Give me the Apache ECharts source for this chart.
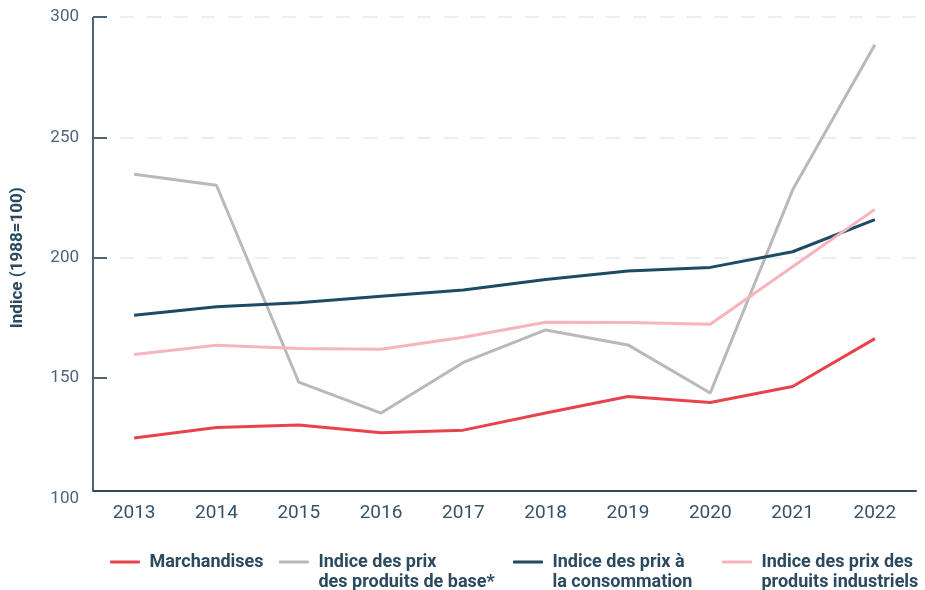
<!DOCTYPE html>
<html>
<head>
<meta charset="utf-8">
<script src="https://cdn.jsdelivr.net/npm/echarts@6/dist/echarts.min.js"></script>
<style>
  html, body { margin: 0; padding: 0; background: #fff; }
  #chart { width: 925px; height: 590px; }
</style>
</head>
<body>
<div id="chart"></div>
<script>
// données (indice 1988 = 100)
const years = ['2013', '2014', '2015', '2016', '2017', '2018', '2019', '2020', '2021', '2022']
const marchandises = [125.1, 129.5, 130.5, 127.3, 128.4, 135.5, 142.4, 139.9, 146.5, 166.4]
const produitsBase = [234.7, 230.1, 148.3, 135.5, 156.5, 170.0, 163.8, 143.8, 228.1, 288.5]
const consommation = [176.1, 179.6, 181.3, 184.0, 186.6, 191.0, 194.5, 196.0, 202.5, 215.8]
const industriels = [159.8, 163.7, 162.3, 162.0, 167.0, 173.2, 173.1, 172.4, 196.3, 220.1]
const yTicks = [150, 200, 250, 300]

const names = [
  'Marchandises',
  'Indice des prix\ndes produits de base*',
  'Indice des prix à\nla consommation',
  'Indice des prix des\nproduits industriels'
]
const colors = ['#e8434c', '#b9b9b9', '#1f4a63', '#f7b4bd']

const font = 'Roboto, "Noto Sans", sans-serif'
const legendText = {
  fontFamily: font,
  fontWeight: 'bold',
  fontSize: 18,
  color: '#2b4a5f',
  lineHeight: 20
}

// une légende par entrée ; pour les libellés sur deux lignes on ajoute
// une ligne vide au-dessus afin que l'icône tombe sur la première ligne
function legendAt(i, left) {
  const twoLines = i > 0
  return {
    left: left,
    top: twoLines ? 532 : 552,
    padding: 0,
    data: [names[i]],
    icon: 'roundRect',
    itemWidth: 30,
    itemHeight: 3,
    itemGap: 0,
    formatter: name => (twoLines ? ' \n' : '') + ' ' + name.replace('\n', '\n '),
    textStyle: legendText
  }
}

const chart = echarts.init(document.getElementById('chart'))

chart.setOption({
  animation: false,
  color: colors,
  grid: {left: 93, right: 9, top: 17, bottom: 91.5, outerBoundsMode: 'none', containLabel: false},
  legend: [legendAt(0, 110), legendAt(1, 279), legendAt(2, 513), legendAt(3, 722)],
  xAxis: {
    type: 'category',
    data: years,
    boundaryGap: true,
    offset: -8,
    axisLine: {lineStyle: {color: '#2e4a5e', width: 2}},
    axisTick: {inside: true, length: 12, lineStyle: {color: '#2e4a5e', width: 2}},
    axisLabel: {fontFamily: font, fontSize: 19, color: '#34536a', margin: 13}
  },
  yAxis: {
    type: 'value',
    min: 100,
    max: 300,
    interval: 50,
    name: 'Indice (1988=100)',
    nameLocation: 'middle',
    nameRotate: 90,
    nameGap: 67,
    nameTextStyle: {fontFamily: font, fontWeight: 'bold', fontSize: 17, color: '#2b4a5f'},
    axisLine: {show: false},
    axisTick: {
      show: true,
      inside: true,
      length: 14,
      customValues: yTicks,
      lineStyle: {color: '#4b667a', width: 2}
    },
    axisLabel: {fontFamily: font, fontSize: 17, color: '#4b667a', margin: 14},
    splitLine: {
      show: true,
      showMinLine: false,
      lineStyle: {type: [14, 13], color: '#e6eaed', width: 1.5}
    }
  },
  series: [
    {name: names[0], type: 'line', data: marchandises},
    {name: names[1], type: 'line', data: produitsBase},
    {name: names[2], type: 'line', data: consommation},
    {name: names[3], type: 'line', data: industriels}
  ].map(s => Object.assign(s, {
    symbol: 'none',
    lineStyle: {width: 3},
    z: 3
  }))
})

// trait de l'axe vertical, arrêté sur l'axe horizontal (décalé de 8 px)
const gridRect = chart.getModel().getComponent('grid', 0).coordinateSystem.getRect()
const axisTop = chart.convertToPixel({yAxisIndex: 0}, 300)
const axisBottom = chart.convertToPixel({yAxisIndex: 0}, 100) - 8
chart.setOption({
  graphic: [{
    type: 'line',
    shape: {x1: gridRect.x, y1: axisTop, x2: gridRect.x, y2: axisBottom},
    style: {stroke: '#4b667a', lineWidth: 2},
    z: 10
  }]
})
</script>
</body>
</html>
